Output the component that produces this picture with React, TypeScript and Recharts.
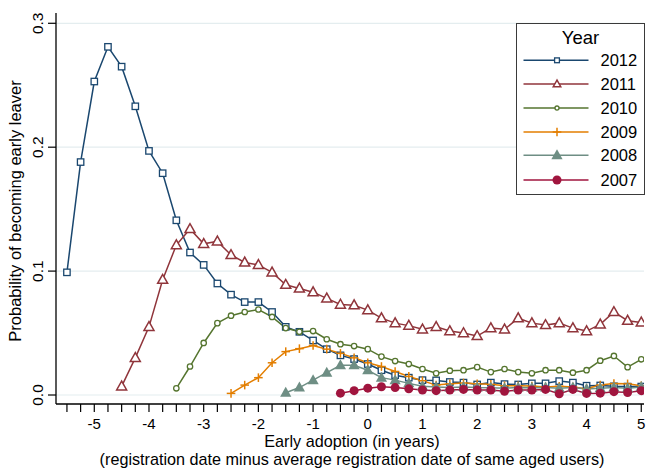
import React from "react";
import { LineChart, Line, XAxis, YAxis, CartesianGrid, Label } from "recharts";

const xValues = [
  -5.5, -5.25, -5.0, -4.75, -4.5, -4.25, -4.0, -3.75, -3.5, -3.25, -3.0, -2.75, -2.5, -2.25, -2.0,
  -1.75, -1.5, -1.25, -1.0, -0.75, -0.5, -0.25, 0, 0.25, 0.5, 0.75, 1.0, 1.25, 1.5, 1.75, 2.0,
  2.25, 2.5, 2.75, 3.0, 3.25, 3.5, 3.75, 4.0, 4.25, 4.5, 4.75, 5.0,
];

const yTicks = [0, 0.1, 0.2, 0.3];
const yTickLabels = ["0.0", "0.1", "0.2", "0.3"];
const xLabelValues = [-5, -4, -3, -2, -1, 0, 1, 2, 3, 4, 5];

// each series starts at the given x value
const values2012 = [
  0.099, 0.188, 0.253, 0.281, 0.265, 0.233, 0.197, 0.179, 0.141, 0.115, 0.105, 0.09, 0.081, 0.075,
  0.075, 0.067, 0.055, 0.051, 0.044, 0.037, 0.032, 0.029, 0.025, 0.02, 0.016, 0.014, 0.012, 0.0118,
  0.0105, 0.01, 0.0085, 0.01, 0.0088, 0.0085, 0.0094, 0.0094, 0.0112, 0.01, 0.0075, 0.0077, 0.007,
  0.0068, 0.0068,
];
const values2011 = [
  0.007, 0.03, 0.055, 0.093, 0.121, 0.134, 0.122, 0.124, 0.113, 0.107, 0.105, 0.099, 0.089, 0.086,
  0.083, 0.078, 0.073, 0.0725, 0.0685, 0.062, 0.058, 0.056, 0.053, 0.055, 0.0516, 0.05, 0.0476,
  0.054, 0.053, 0.062, 0.058, 0.0565, 0.058, 0.054, 0.0516, 0.057, 0.067, 0.06, 0.0586,
];
const values2010 = [
  0.0054, 0.023, 0.042, 0.058, 0.064, 0.067, 0.069, 0.063, 0.054, 0.051, 0.0516, 0.045, 0.041,
  0.0395, 0.037, 0.031, 0.0274, 0.025, 0.021, 0.0175, 0.0196, 0.02, 0.0225, 0.0185, 0.021, 0.0185,
  0.0175, 0.02, 0.02, 0.018, 0.02, 0.0277, 0.0315, 0.0225, 0.0288,
];
const values2009 = [
  0.0013, 0.008, 0.014, 0.026, 0.035, 0.0374, 0.04, 0.037, 0.0336, 0.03, 0.026, 0.023, 0.019, 0.015,
  0.0115, 0.008, 0.009, 0.0097, 0.009, 0.0086, 0.0075, 0.0075, 0.0072, 0.0065, 0.007, 0.0065, 0.005,
  0.008, 0.0092, 0.009, 0.0075,
];
const values2008 = [
  0.0018, 0.006, 0.012, 0.018, 0.024, 0.024, 0.02, 0.014, 0.012, 0.0094, 0.007, 0.0065, 0.006,
  0.0065, 0.006, 0.0058, 0.0055, 0.006, 0.0058, 0.006, 0.0055, 0.006, 0.0048, 0.0055, 0.006, 0.0055,
  0.0065,
];
const values2007 = [
  0.0015, 0.0035, 0.0055, 0.0067, 0.006, 0.005, 0.004, 0.0035, 0.004, 0.0045, 0.004, 0.004, 0.003,
  0.004, 0.004, 0.0045, 0.001, 0.0045, 0.0013, 0.0015, 0.0027, 0.002, 0.0035,
];

const seriesNames = ["2012", "2011", "2010", "2009", "2008", "2007"];
const seriesStarts = [-5.5, -4.5, -3.5, -2.5, -1.5, -0.5];
const seriesValues = [values2012, values2011, values2010, values2009, values2008, values2007];
const seriesColors = ["#1a476f", "#90353b", "#55752f", "#e37e00", "#6e8e84", "#a0153e"];
const seriesMarkers = ["squareH", "triangleH", "circleH", "plus", "triangle", "circle"];

const FONT = "'Liberation Sans', Arial, sans-serif";

function buildData(start: number, vals: number[]) {
  const off = xValues.indexOf(start);
  return vals.map((v, i) => ({ x: xValues[off + i], y: v }));
}

function Marker({ kind, cx, cy, color, scale = 1 }: any) {
  if (cx == null || cy == null) return null;
  const s = scale;
  switch (kind) {
    case "squareH": {
      const h = 3.2 * s;
      return <rect x={cx - h} y={cy - h} width={2 * h} height={2 * h} fill="#fff" stroke={color} strokeWidth={1.3} />;
    }
    case "triangleH": {
      const w = 5 * s;
      const hTop = 5.3 * s;
      const hBot = 3.6 * s;
      return (
        <polygon
          points={`${cx},${cy - hTop} ${cx - w},${cy + hBot} ${cx + w},${cy + hBot}`}
          fill="#fff"
          stroke={color}
          strokeWidth={1.5}
          strokeLinejoin="miter"
        />
      );
    }
    case "circleH":
      return <circle cx={cx} cy={cy} r={2.7 * s} fill="#fff" stroke={color} strokeWidth={1.3} />;
    case "plus": {
      const a = 4.3 * s;
      return (
        <g stroke={color} strokeWidth={1.5}>
          <line x1={cx - a} y1={cy} x2={cx + a} y2={cy} />
          <line x1={cx} y1={cy - a} x2={cx} y2={cy + a} />
        </g>
      );
    }
    case "triangle": {
      const w = 5.6 * s;
      const hTop = 6 * s;
      const hBot = 4 * s;
      return <polygon points={`${cx},${cy - hTop} ${cx - w},${cy + hBot} ${cx + w},${cy + hBot}`} fill={color} />;
    }
    case "circle":
      return <circle cx={cx} cy={cy} r={4.5 * s} fill={color} />;
    default:
      return null;
  }
}

const XTick = (props: any) => {
  const { x, payload } = props;
  const v = payload.value;
  if (!xLabelValues.some((l) => Math.abs(l - v) < 1e-9)) return <g />;
  return (
    <text x={x} y={429} textAnchor="middle" fontFamily={FONT} fontSize={15} fill="#000">
      {String(Math.round(v))}
    </text>
  );
};

const YTick = (props: any) => {
  const { y, payload } = props;
  const idx = yTicks.findIndex((t) => Math.abs(t - payload.value) < 1e-9);
  const bx = 43;
  return (
    <text
      x={bx}
      y={y}
      transform={`rotate(-90, ${bx}, ${y})`}
      textAnchor="middle"
      fontFamily={FONT}
      fontSize={15.5}
      fill="#000"
    >
      {idx >= 0 ? yTickLabels[idx] : ""}
    </text>
  );
};

const legendRowY = [37.3, 61, 85, 109, 132.3, 157];

function LegendBox() {
  return (
    <svg
      width={129}
      height={172}
      style={{ position: "absolute", left: 515.5, top: 22.5, overflow: "visible" }}
    >
      <rect x={0.5} y={0.5} width={128} height={171} fill="#fff" stroke="#3a3a3a" strokeWidth={1} />
      <text x={64.5} y={20.5} textAnchor="middle" fontFamily={FONT} fontSize={18.5} fill="#000">
        Year
      </text>
      {seriesNames.map((name, i) => {
        const cy = legendRowY[i];
        const small = seriesMarkers[i] === "squareH" || seriesMarkers[i] === "triangleH" || seriesMarkers[i] === "circleH";
        return (
          <g key={name}>
            <line x1={7.5} y1={cy} x2={72.5} y2={cy} stroke={seriesColors[i]} strokeWidth={1.5} />
            <Marker kind={seriesMarkers[i]} cx={41} cy={cy} color={seriesColors[i]} scale={small ? 0.75 : 1} />
            <text x={84.5} y={cy + 5.9} fontFamily={FONT} fontSize={16.5} fill="#000">
              {name}
            </text>
          </g>
        );
      })}
    </svg>
  );
}

export default function App() {
  return (
    <div style={{ position: "absolute", left: 0, top: 0, width: 647, height: 469, background: "#fff" }}>
      <LineChart width={647} height={469} margin={{ top: 13, right: 3, bottom: 0, left: 0 }}>
        <CartesianGrid horizontal vertical={false} stroke="#e4edef" strokeWidth={1.2} horizontalValues={yTicks} />
        <XAxis
          type="number"
          dataKey="x"
          domain={[-5.7, 5.05]}
          allowDataOverflow
          ticks={xValues}
          interval={0}
          tickSize={8}
          height={65}
          tick={<XTick />}
          stroke="#000"
          axisLine={{ stroke: "#000", strokeWidth: 1.3 }}
          tickLine={{ stroke: "#000", strokeWidth: 1.2 }}
        >
          <Label
            content={() => (
              <g>
                <text x={352} y={446.5} textAnchor="middle" fontFamily={FONT} fontSize={16.2} fill="#000">
                  Early adoption (in years)
                </text>
                <text x={352} y={464.5} textAnchor="middle" fontFamily={FONT} fontSize={16.2} fill="#000">
                  (registration date minus average registration date of same aged users)
                </text>
              </g>
            )}
          />
        </XAxis>
        <YAxis
          type="number"
          domain={[-0.00726, 0.3083]}
          allowDataOverflow
          ticks={yTicks}
          interval={0}
          tickSize={8}
          width={56}
          tick={<YTick />}
          axisLine={{ stroke: "#000", strokeWidth: 1.3 }}
          tickLine={{ stroke: "#000", strokeWidth: 1.2 }}
        >
          <Label
            content={() => (
              <text
                x={21}
                y={211}
                transform="rotate(-90, 21, 211)"
                textAnchor="middle"
                fontFamily={FONT}
                fontSize={16.5}
                fill="#000"
              >
                Probability of becoming early leaver
              </text>
            )}
          />
        </YAxis>
        {seriesNames.map((name, i) => (
          <Line
            key={name}
            name={name}
            data={buildData(seriesStarts[i], seriesValues[i])}
            dataKey="y"
            type="linear"
            stroke={seriesColors[i]}
            strokeWidth={1.5}
            isAnimationActive={false}
            dot={(p: any) => (
              <Marker key={`${name}-${p.index}`} kind={seriesMarkers[i]} cx={p.cx} cy={p.cy} color={seriesColors[i]} />
            )}
            activeDot={false}
          />
        ))}
      </LineChart>
      <LegendBox />
    </div>
  );
}
